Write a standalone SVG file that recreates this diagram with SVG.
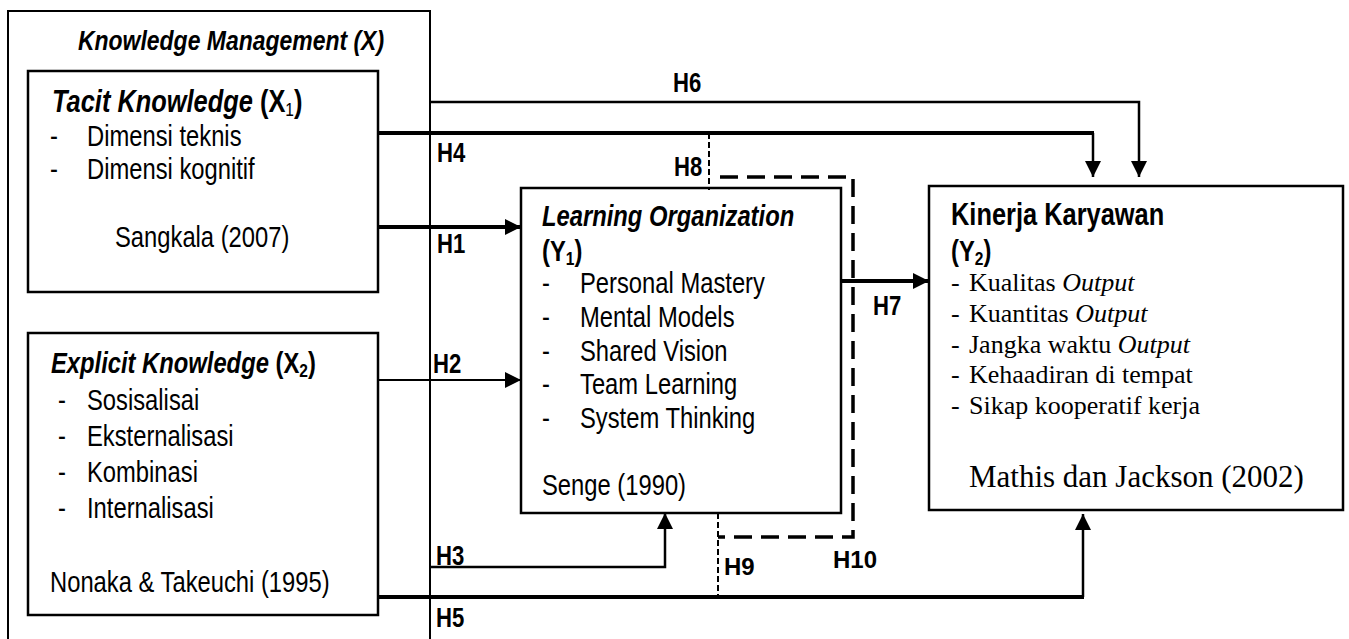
<svg xmlns="http://www.w3.org/2000/svg" width="1349" height="639" viewBox="0 0 1349 639">
  <style>
    .box { fill: #fff; stroke: #000; stroke-width: 2.5; }
    .frame { fill: none; stroke: #000; stroke-width: 2; }
    /* narrow sans: Liberation Sans squeezed horizontally via the per-text matrix */
    .sn { font-family: "Liberation Sans", Arial, sans-serif; fill: #000; }
    .ser { font-family: "Liberation Serif", "Times New Roman", serif; fill: #000; font-size: 26px; }
    .ref { font-size: 31px; }
    .hb { font-family: "Liberation Sans", Arial, sans-serif; font-weight: bold; fill: #000; font-size: 24px; }
    .b { font-weight: bold; }
    .bi { font-weight: bold; font-style: italic; }
    .it { font-style: italic; }
    .lbl { font-size: 27px; font-weight: bold; }
    .item { font-size: 29px; }
    .ln { fill: none; stroke: #000; }
    .thin { stroke-width: 2; }
    .mid { stroke-width: 2.5; }
    .thick { stroke-width: 4; }
    .dash-thin { fill: none; stroke: #000; stroke-width: 2; stroke-dasharray: 6 3; }
    .dash-thick { fill: none; stroke: #000; stroke-width: 3.5; stroke-dasharray: 18 9; }
  </style>
  <defs>
    <marker id="arrow" viewBox="0 0 16 16" refX="16" refY="8" markerWidth="16" markerHeight="16" markerUnits="userSpaceOnUse" orient="auto">
      <path d="M0,0 L16,8 L0,16 Z" fill="#000"/>
    </marker>
  </defs>

  <rect width="1349" height="639" fill="#fff"/>

  <!-- Knowledge Management frame (open at the bottom edge) -->
  <g id="knowledge-management">
    <path class="frame" d="M8,645 V11 H430 V645"/>
    <text class="sn bi" transform="matrix(0.82 0 0 1 78 50)" font-size="28">Knowledge Management (X)</text>
  </g>

  <!-- Tacit Knowledge -->
  <g id="tacit-knowledge">
    <rect class="box" x="28" y="71" width="350" height="221"/>
    <text class="sn" transform="matrix(0.82 0 0 1 52 112)" font-size="31"><tspan class="bi">Tacit Knowledge</tspan><tspan class="b"> (X</tspan><tspan font-size="19" dy="4">1</tspan><tspan class="b" dy="-4">)</tspan></text>
    <text class="sn item" transform="matrix(0.82 0 0 1 50 146)">-</text>
    <text class="sn item" transform="matrix(0.82 0 0 1 87 146)">Dimensi teknis</text>
    <text class="sn item" transform="matrix(0.82 0 0 1 50 179)">-</text>
    <text class="sn item" transform="matrix(0.82 0 0 1 87 179)">Dimensi kognitif</text>
    <text class="sn item" transform="matrix(0.82 0 0 1 115 247)">Sangkala (2007)</text>
  </g>

  <!-- Explicit Knowledge -->
  <g id="explicit-knowledge">
    <rect class="box" x="28" y="333" width="350" height="282"/>
    <text class="sn" transform="matrix(0.82 0 0 1 51 373)" font-size="29"><tspan class="bi">Explicit Knowledge</tspan><tspan class="b"> (X</tspan><tspan class="b" font-size="19" dy="4">2</tspan><tspan class="b" dy="-4">)</tspan></text>
    <text class="sn item" transform="matrix(0.82 0 0 1 58 410)">-</text>
    <text class="sn item" transform="matrix(0.82 0 0 1 87 410)">Sosisalisai</text>
    <text class="sn item" transform="matrix(0.82 0 0 1 58 446)">-</text>
    <text class="sn item" transform="matrix(0.82 0 0 1 87 446)">Eksternalisasi</text>
    <text class="sn item" transform="matrix(0.82 0 0 1 58 482)">-</text>
    <text class="sn item" transform="matrix(0.82 0 0 1 87 482)">Kombinasi</text>
    <text class="sn item" transform="matrix(0.82 0 0 1 58 518)">-</text>
    <text class="sn item" transform="matrix(0.82 0 0 1 87 518)">Internalisasi</text>
    <text class="sn item" transform="matrix(0.82 0 0 1 50 592)">Nonaka &amp; Takeuchi (1995)</text>
  </g>

  <!-- Learning Organization -->
  <g id="learning-organization">
    <rect class="box" x="521" y="188" width="320" height="325"/>
    <text class="sn bi" transform="matrix(0.82 0 0 1 542 226)" font-size="29">Learning Organization</text>
    <text class="sn b" transform="matrix(0.82 0 0 1 542 261)" font-size="29">(Y<tspan font-size="19" dy="4">1</tspan><tspan dy="-4">)</tspan></text>
    <text class="sn item" transform="matrix(0.82 0 0 1 542 293)">-</text>
    <text class="sn item" transform="matrix(0.82 0 0 1 580 293)">Personal Mastery</text>
    <text class="sn item" transform="matrix(0.82 0 0 1 542 327)">-</text>
    <text class="sn item" transform="matrix(0.82 0 0 1 580 327)">Mental Models</text>
    <text class="sn item" transform="matrix(0.82 0 0 1 542 361)">-</text>
    <text class="sn item" transform="matrix(0.82 0 0 1 580 361)">Shared Vision</text>
    <text class="sn item" transform="matrix(0.82 0 0 1 542 394)">-</text>
    <text class="sn item" transform="matrix(0.82 0 0 1 580 394)">Team Learning</text>
    <text class="sn item" transform="matrix(0.82 0 0 1 542 428)">-</text>
    <text class="sn item" transform="matrix(0.82 0 0 1 580 428)">System Thinking</text>
    <text class="sn item" transform="matrix(0.82 0 0 1 542 495)">Senge (1990)</text>
  </g>

  <!-- Kinerja Karyawan -->
  <g id="kinerja-karyawan">
    <rect class="box" x="929" y="186" width="414" height="324"/>
    <text class="sn b" transform="matrix(0.82 0 0 1 951 225)" font-size="31">Kinerja Karyawan</text>
    <text class="sn b" transform="matrix(0.82 0 0 1 951 261)" font-size="29">(Y<tspan font-size="19" dy="4">2</tspan><tspan dy="-4">)</tspan></text>
    <text class="ser" x="951" y="291">-</text>
    <text class="ser" x="969" y="291">Kualitas <tspan class="it">Output</tspan></text>
    <text class="ser" x="951" y="322">-</text>
    <text class="ser" x="969" y="322">Kuantitas <tspan class="it">Output</tspan></text>
    <text class="ser" x="951" y="353">-</text>
    <text class="ser" x="969" y="353">Jangka waktu <tspan class="it">Output</tspan></text>
    <text class="ser" x="951" y="383">-</text>
    <text class="ser" x="969" y="383">Kehaadiran di tempat</text>
    <text class="ser" x="951" y="414">-</text>
    <text class="ser" x="969" y="414">Sikap kooperatif kerja</text>
    <text class="ser ref" x="969" y="487">Mathis dan Jackson (2002)</text>
  </g>

  <!-- Hypothesis paths -->
  <g id="connectors">
    <!-- H6: Knowledge Management -> Kinerja -->
    <path class="ln mid" d="M431,102 H1139 V177" marker-end="url(#arrow)"/>
    <!-- H4: Tacit -> Kinerja -->
    <path class="ln thick" d="M378,133 H1094"/>
    <path class="ln mid" d="M1093,133 V177" marker-end="url(#arrow)"/>
    <!-- H1: Tacit -> Learning Organization -->
    <path class="ln thick" d="M378,227 H521" marker-end="url(#arrow)"/>
    <!-- H2: Explicit -> Learning Organization -->
    <path class="ln thin" d="M378,380 H521" marker-end="url(#arrow)"/>
    <!-- H3: Knowledge Management -> Learning Organization -->
    <path class="ln mid" d="M431,567 H665 V513" marker-end="url(#arrow)"/>
    <!-- H5: Explicit -> Kinerja -->
    <path class="ln thick" d="M378,597 H1084"/>
    <path class="ln mid" d="M1083,597 V514" marker-end="url(#arrow)"/>
    <!-- H7: Learning Organization -> Kinerja -->
    <path class="ln thick" d="M841,281 H929" marker-end="url(#arrow)"/>
    <!-- H8 / H9 mediation ticks -->
    <path class="dash-thin" d="M709,133 V190"/>
    <path class="dash-thin" d="M718,513 V597"/>
    <!-- H10 mediation frame -->
    <path class="dash-thick" d="M720,177 H853 V537 H718"/>

    <text class="sn lbl" transform="matrix(0.82 0 0 1 673 92)">H6</text>
    <text class="sn lbl" transform="matrix(0.82 0 0 1 437 162)">H4</text>
    <text class="sn lbl" transform="matrix(0.82 0 0 1 674 176)">H8</text>
    <text class="sn lbl" transform="matrix(0.82 0 0 1 437 253)">H1</text>
    <text class="sn lbl" transform="matrix(0.82 0 0 1 873 315)">H7</text>
    <text class="sn lbl" transform="matrix(0.82 0 0 1 433 373)">H2</text>
    <text class="sn lbl" transform="matrix(0.82 0 0 1 436 565)">H3</text>
    <text class="sn lbl" transform="matrix(0.82 0 0 1 436 627)">H5</text>
    <text class="hb" x="724" y="575">H9</text>
    <text class="hb" x="833" y="568">H10</text>
  </g>
</svg>
